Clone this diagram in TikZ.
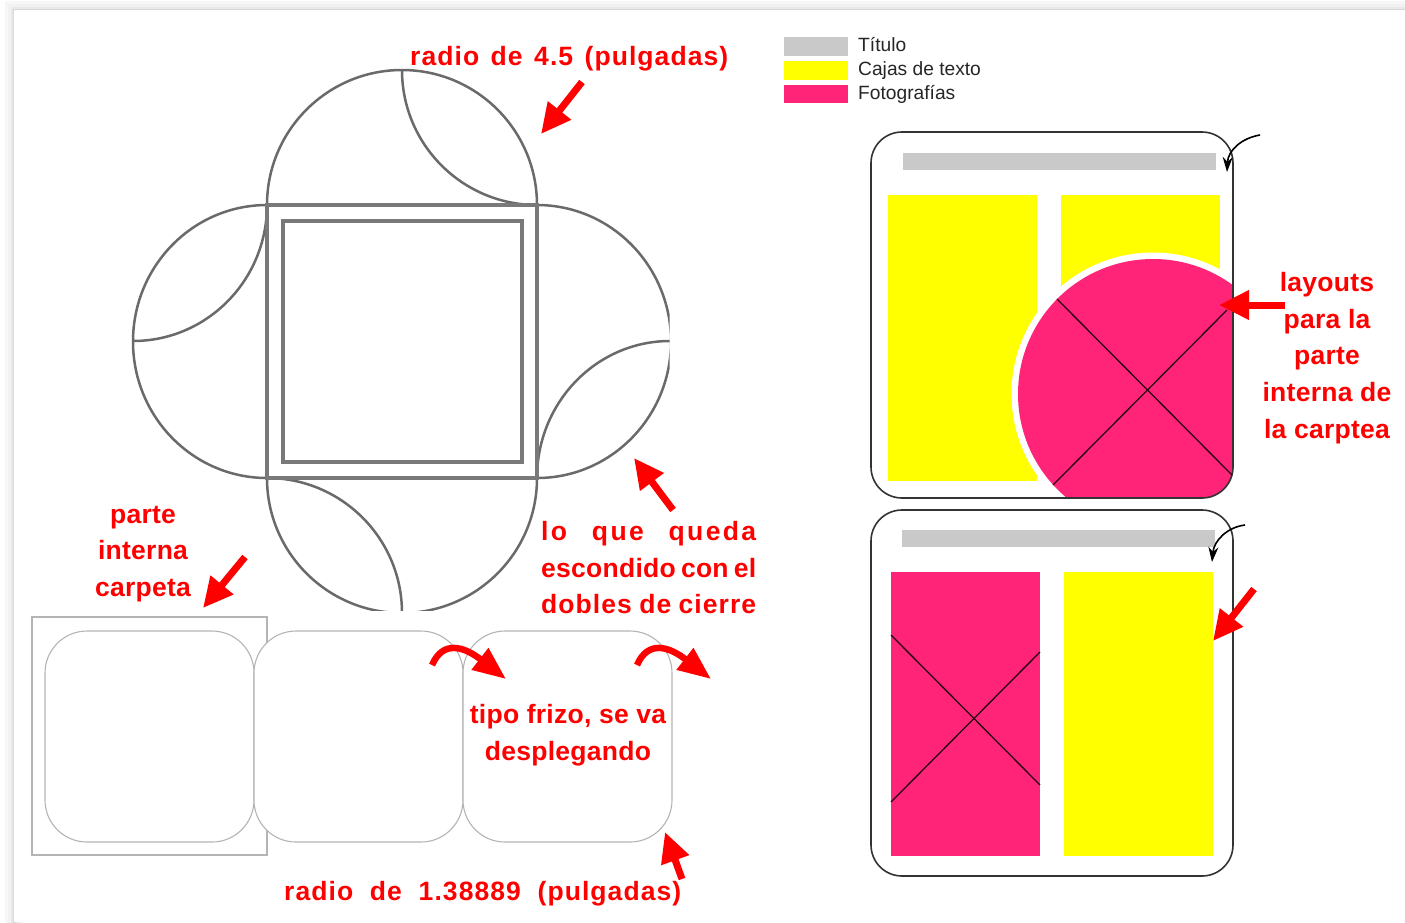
\documentclass[tikz,border=0pt]{standalone}
\usepackage{fontspec}
\setmainfont{Liberation Sans}
\newfontfamily\rb[LetterSpace=1]{Liberation Sans Bold}
\newfontfamily\rbw[LetterSpace=4]{Liberation Sans Bold}
\newfontfamily\rbx[LetterSpace=9]{Liberation Sans Bold}
\usetikzlibrary{arrows.meta}
\definecolor{hot}{HTML}{FF2477}
\definecolor{bar}{HTML}{C9C9C9}
\definecolor{die}{HTML}{6A6A6A}
\definecolor{fold}{HTML}{B4B4B4}
\definecolor{lemon}{HTML}{FFFF00}
\definecolor{pure}{HTML}{FF0000}
\tikzset{
  redtext/.style={text=pure,inner sep=0pt,align=center,font=\rb\fontsize{26.5}{36.7}\selectfont},
  redarrow/.style={draw=pure,line width=7pt,-{Triangle[length=30pt,width=28pt,fill=pure]}},
  bendarrow/.style={draw=pure,line width=6.5pt,-{Triangle[length=33pt,width=26pt,fill=pure]}},
  tick/.style={draw=black,line width=1.6pt,-{Stealth[length=15pt,width=10pt]}},
  dieline/.style={draw=die,line width=2.5pt},
  foldline/.style={draw=die!90,line width=3.2pt},
  thin gray/.style={draw=fold,line width=1.1pt},
  panel/.style={draw=black!80,line width=1.6pt,rounded corners=31pt},
  cross/.style={draw=black!85!hot,line width=1.3pt},
  legendtext/.style={inner sep=0pt,anchor=base west,text=black!85,font=\fontsize{19.2}{22}\selectfont},
}
\begin{document}
\begin{tikzpicture}[x=1pt,y=1pt]
\useasboundingbox (0,0) rectangle (1405,-922);
\fill[white] (0,0) rectangle (1405,-922);
% sheet edge, a soft shadow
\draw[draw=black!3,line width=18pt] (14,-930) -- (14,-10) -- (1415,-10);
\draw[draw=black!5,line width=12pt] (14,-930) -- (14,-10) -- (1415,-10);
\draw[draw=black!9,line width=7pt] (14,-930) -- (14,-10) -- (1415,-10);
\draw[draw=black!15,line width=3pt] (14,-930) -- (14,-10) -- (1415,-10);
\fill[white] (14,-10) rectangle (1405,-922);

% die cut flower
\begin{scope}
\clip (100,-40) rectangle (669.6,-610.3);
\draw[dieline] (267,-205) arc[start angle=180,end angle=0,x radius=135pt,y radius=135pt];
\draw[dieline] (402,-70) arc[start angle=180,end angle=270,x radius=135pt,y radius=135pt];
\draw[dieline] (267,-205) arc[start angle=90,end angle=270,x radius=134pt,y radius=136.5pt];
\draw[dieline] (133,-341) arc[start angle=270,end angle=360,x radius=134pt,y radius=136pt];
\draw[dieline] (537,-205) arc[start angle=90,end angle=-90,x radius=134pt,y radius=136.5pt];
\draw[dieline] (670,-341) arc[start angle=90,end angle=180,x radius=133pt,y radius=137pt];
\draw[dieline] (267,-478) arc[start angle=180,end angle=360,x radius=135pt,y radius=135pt];
\draw[dieline] (267,-478) arc[start angle=90,end angle=0,x radius=135pt,y radius=135pt];
\end{scope}
\draw[foldline] (267,-205) rectangle (537,-478);
\draw[foldline] (283,-221) rectangle (522,-462);

% frieze
\draw[thin gray] (32,-617) rectangle (267,-855);
\draw[thin gray,fill=white,rounded corners=42pt] (45,-631) rectangle (254,-842);
\draw[thin gray,fill=white,rounded corners=42pt] (254,-631) rectangle (463,-842);
\draw[thin gray,fill=white,rounded corners=42pt] (463,-631) rectangle (672,-842);

% legend
\fill[bar] (784,-37) rectangle (848,-56);
\fill[lemon] (784,-61) rectangle (848,-80);
\fill[hot] (784,-85) rectangle (848,-103);
\node[legendtext] (lt) at (858,-51) {Título};
\node[legendtext] (lc) at (858,-75) {Cajas de texto};
\node[legendtext] (lf) at (858,-99) {Fotografías};

% first layout
\begin{scope}
\clip[rounded corners=31pt] (871,-132) rectangle (1233,-498);
\fill[bar] (903,-153) rectangle (1216,-170);
\fill[lemon] (888,-195) rectangle (1037,-481);
\fill[lemon] (1061,-195) rectangle (1220,-320);
\fill[white] (1153,-394) circle[radius=141.5pt];
\fill[hot] (1153,-394) circle[radius=135pt];
\fill[hot] (1153,-394) rectangle (1233,-498);
\end{scope}
\draw[panel] (871,-132) rectangle (1233,-498);
\draw[cross] (1057,-299) -- (1232,-475);
\draw[cross] (1227,-310) -- (1053,-485);

% second layout
\fill[bar] (902,-530) rectangle (1215,-547);
\fill[hot] (891,-572) rectangle (1040,-856);
\fill[lemon] (1064,-572) rectangle (1213,-856);
\draw[panel] (871,-510) rectangle (1233,-876);
\draw[cross] (891,-635) -- (1040,-785);
\draw[cross] (1040,-652) -- (891,-802);

% small hand-drawn arrows
\coordinate (ta1) at (1260,-135);
\coordinate (tb1) at (1227,-172);
\coordinate (ta2) at (1245,-525);
\coordinate (tb2) at (1212,-562);
\draw[tick] (ta1) .. controls (1242,-138) and (1228,-150) .. (tb1);
\draw[tick] (ta2) .. controls (1228,-527) and (1214,-540) .. (tb2);

% labels
\node[redtext,anchor=base west] (r1) at (410,-65) {\rbw\makebox[318pt][s]{radio de 4.5 (pulgadas)}};
\node[redtext,anchor=base west] (r2) at (284,-900) {\rbw\makebox[397pt][s]{radio de 1.38889 (pulgadas)}};
\node[redtext] (parte) at (143,-554) {parte\\interna\\carpeta};
\node[redtext,align=left,anchor=north west] (lo) at (541,-521) {{\rbx\makebox[215pt][s]{lo que queda}}\\\makebox[215pt][s]{escondido con el}\\{\rbw\makebox[215pt][s]{dobles de cierre}}};
\node[redtext] (tipo) at (568,-735) {tipo frizo, se va\\desplegando};
\node[redtext] (lay) at (1327,-358) {layouts\\para la\\parte\\interna de\\la carptea};

% red arrows
\coordinate (a1s) at (582,-82);  \coordinate (a1e) at (541,-134);
\coordinate (a2s) at (673,-510); \coordinate (a2e) at (634,-458);
\coordinate (a3s) at (245,-557); \coordinate (a3e) at (203,-608);
\coordinate (a4s) at (1285,-305);\coordinate (a4e) at (1219,-305);
\coordinate (a5s) at (1254,-589);\coordinate (a5e) at (1213,-641);
\coordinate (a6s) at (682,-879); \coordinate (a6e) at (665,-832);
\draw[redarrow] (a1s) -- (a1e);
\draw[redarrow] (a2s) -- (a2e);
\draw[redarrow] (a3s) -- (a3e);
\draw[redarrow] (a4s) -- (a4e);
\draw[redarrow] (a5s) -- (a5e);
\draw[redarrow] (a6s) -- (a6e);
\coordinate (b1s) at (432,-665); \coordinate (b1e) at (506,-679);
\coordinate (b2s) at (637,-665); \coordinate (b2e) at (711,-679);
\draw[bendarrow] (b1s) .. controls (443,-640) and (463.6,-646.2) .. (b1e);
\draw[bendarrow] (b2s) .. controls (648,-640) and (668.6,-646.2) .. (b2e);
\end{tikzpicture}
\end{document}
